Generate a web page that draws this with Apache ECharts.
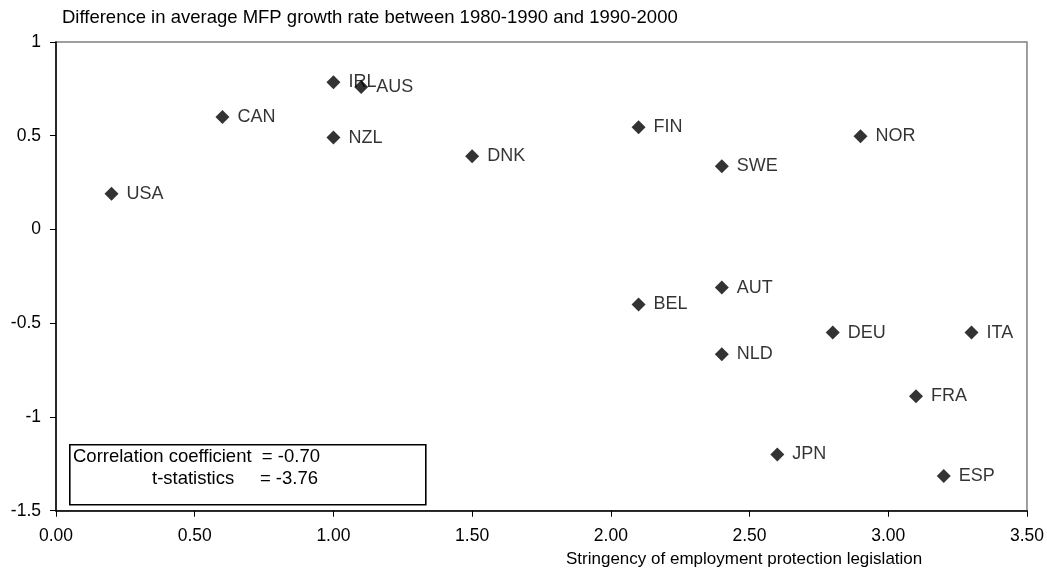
<!DOCTYPE html>
<html><head><meta charset="utf-8">
<script src="https://cdn.jsdelivr.net/npm/echarts@6/dist/echarts.min.js"></script>
<style>html,body{margin:0;padding:0;background:#fff}#c{width:1047px;height:571px}</style>
</head><body><div id="c"></div>
<script>
const countries = ["USA","CAN","IRL","AUS","NZL","DNK","FIN","SWE","NOR","AUT","BEL","NLD","DEU","ITA","FRA","JPN","ESP"];
const epl = [0.2,0.6,1.0,1.1,1.0,1.5,2.1,2.4,2.9,2.4,2.1,2.4,2.8,3.3,3.1,2.6,3.2];
const mfp = [0.19,0.60,0.785,0.76,0.49,0.39,0.545,0.337,0.497,-0.31,-0.40,-0.666,-0.55,-0.55,-0.89,-1.20,-1.315];
const xTicks = [0,0.5,1,1.5,2,2.5,3,3.5];
const yTicks = [1,0.5,0,-0.5,-1,-1.5];

const font = "Arial, 'Liberation Sans', sans-serif";
const chart = echarts.init(document.getElementById('c'));
chart.setOption({
  animation:false,
  backgroundColor:'#fff',
  grid:{left:56,right:19.5,top:42,bottom:60.3,show:true,borderColor:'#808080',borderWidth:1.5,backgroundColor:'#fff'},
  xAxis:{type:'value',min:0,max:3.5,interval:0.5,
    axisLine:{onZero:false,lineStyle:{color:'#000',width:1.5}},
    axisTick:{show:true,length:6,lineStyle:{color:'#000'}},
    axisLabel:{formatter:v=>v.toFixed(2),fontFamily:font,fontSize:17.5,color:'#000',margin:16},
    splitLine:{show:false}},
  yAxis:{type:'value',min:-1.5,max:1,interval:0.5,
    axisLine:{show:true,onZero:false,lineStyle:{color:'#000',width:1.5}},
    axisTick:{show:true,length:6,lineStyle:{color:'#000'}},
    axisLabel:{formatter:v=>String(v),fontFamily:font,fontSize:17.5,color:'#000',margin:15},
    splitLine:{show:false}},
  graphic:[
    {type:'text',left:62,top:8,style:{text:'Difference in average MFP growth rate between 1980-1990 and 1990-2000',font:'18.5px '+font,fill:'#000'}},
    {type:'rect',left:69,top:444,shape:{width:356,height:60},style:{fill:'#fff',stroke:'#000',lineWidth:1.6},z:10},
    {type:'text',left:73,top:447,style:{text:'Correlation coefficient  = -0.70',font:'18.5px '+font,fill:'#000'},z:11},
    {type:'text',left:152,top:469,style:{text:'t-statistics     = -3.76',font:'18.5px '+font,fill:'#000'},z:11},
    {type:'text',left:566,top:551,style:{text:'Stringency of employment protection legislation',font:'17px '+font,fill:'#000'}}
  ],
  series:[{type:'scatter',symbol:'diamond',symbolSize:14,
    itemStyle:{color:'#000'},
    data:countries.map((c,i)=>({name:c,value:[epl[i],mfp[i]]})),
    label:{show:true,position:'right',distance:8,formatter:p=>p.name,fontFamily:font,fontSize:18,color:'#000'}
  }]
});
</script></body></html>
